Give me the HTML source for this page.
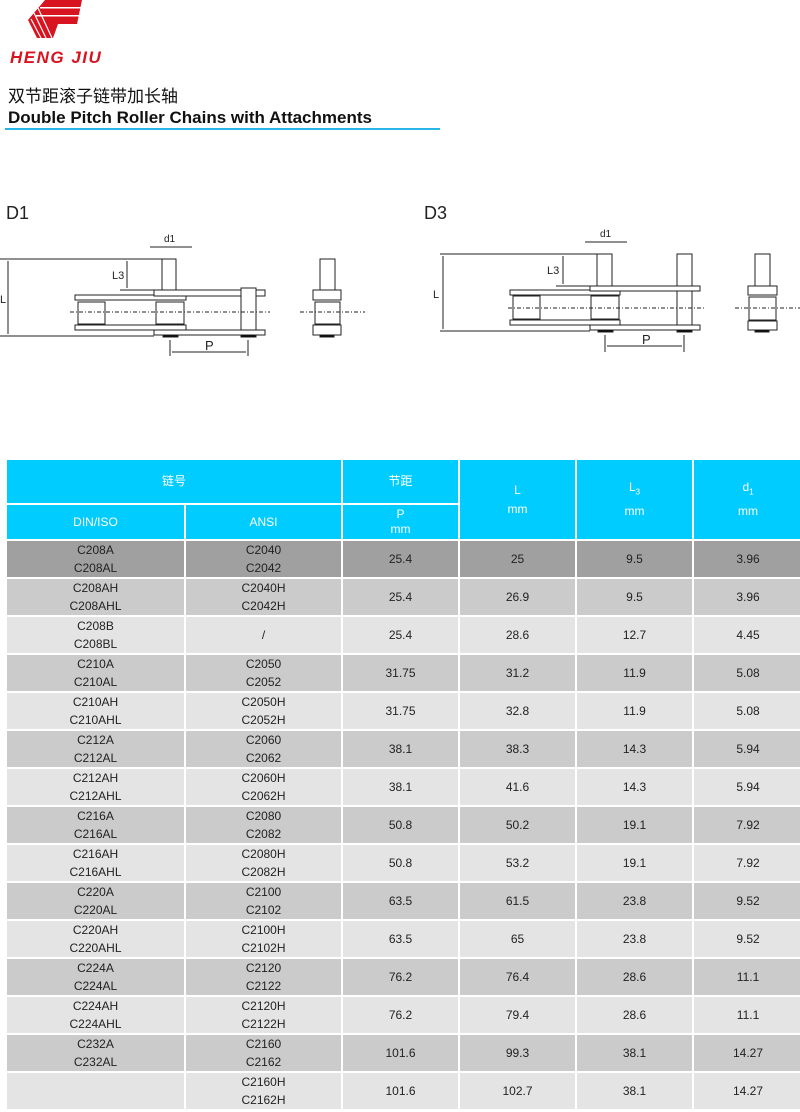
<!DOCTYPE html>
<html><head><meta charset="utf-8"><style>
body{margin:0;width:800px;height:1112px;background:#fff;position:relative;overflow:hidden;font-family:"Liberation Sans","Noto Sans CJK SC",sans-serif;}
.abs{position:absolute}
table{position:absolute;left:5px;top:458px;border-collapse:collapse;table-layout:fixed;width:797px;}
td{border:2px solid #fff;text-align:center;font-size:12px;color:#222;padding:0;line-height:19px;}
.h{background:#00ccff;color:#fff;}
tr.d td{height:36.15px;line-height:18px;box-sizing:border-box;}
.r0 td{background:#a0a0a0}
.r1 td{background:#cbcbcb}
.r2 td{background:#e4e4e4}
</style></head><body>
<svg class="abs" style="left:0;top:0" width="110" height="70">
<polygon points="45,0 82,0 77,24 58,24 53,38 37,38 28,20" fill="#d7141f"/>
<rect x="40" y="7" width="45" height="1.5" fill="#fff"/>
<rect x="36" y="15" width="45" height="1.5" fill="#fff"/>
<line x1="38" y1="8" x2="52" y2="38" stroke="#fff" stroke-width="1.2"/>
<line x1="34" y1="13" x2="46" y2="38" stroke="#fff" stroke-width="1.2"/>
<line x1="31" y1="19" x2="41" y2="38" stroke="#fff" stroke-width="1.2"/>
<text x="10" y="63" font-family="Liberation Sans" font-weight="bold" font-style="italic" font-size="17" fill="#d7141f" letter-spacing="1.5">HENG JIU</text>
</svg>
<div class="abs" style="left:8px;top:82px;font-size:17px;color:#111">双节距滚子链带加长轴</div>
<div class="abs" style="left:8px;top:108px;font-size:17px;font-weight:bold;color:#111">Double Pitch Roller Chains with Attachments</div>
<div class="abs" style="left:5px;top:128px;width:435px;height:2px;background:#29b6e6"></div>

<svg class="abs" style="left:0;top:0" width="800" height="450" font-family="Liberation Sans" fill="none" stroke="#222" stroke-width="1">
<text x="6" y="219" font-size="18" fill="#222" stroke="none">D1</text>
<text x="424" y="219" font-size="18" fill="#222" stroke="none">D3</text>
<g>
<line x1="0" y1="259" x2="176" y2="259"/><line x1="0" y1="336" x2="154" y2="336"/>
<line x1="8" y1="261" x2="8" y2="334"/><text x="0" y="303" font-size="11" fill="#222" stroke="none">L</text>
<rect x="162" y="259" width="14" height="31" fill="#fff"/>
<line x1="120" y1="290" x2="154" y2="290"/>
<line x1="127" y1="261" x2="127" y2="288"/><text x="112" y="279" font-size="11" fill="#222" stroke="none">L3</text>
<line x1="150" y1="247" x2="192" y2="247"/><text x="164" y="242" font-size="10" fill="#222" stroke="none">d1</text>
<rect x="75" y="295" width="111" height="5" fill="#fff"/><rect x="75" y="325" width="111" height="5" fill="#fff"/>
<rect x="78" y="302" width="27" height="22" fill="#fff"/><rect x="156" y="302" width="28" height="22" fill="#fff"/>
<rect x="154" y="290" width="111" height="6" fill="#fff"/><rect x="154" y="330" width="111" height="5" fill="#fff"/>
<rect x="241" y="288" width="15" height="42" fill="#fff"/>
<rect x="163" y="335" width="15" height="2" fill="#000"/><rect x="241" y="335" width="15" height="2" fill="#000"/>
<line x1="70" y1="312" x2="270" y2="312" stroke-dasharray="4,2,1,2"/>
<line x1="170" y1="340" x2="170" y2="356"/><line x1="248" y1="340" x2="248" y2="356"/>
<line x1="172" y1="352" x2="246" y2="352"/><text x="205" y="350" font-size="13" fill="#222" stroke="none">P</text>
<rect x="320" y="259" width="15" height="31" fill="#fff"/>
<rect x="313" y="290" width="28" height="10" fill="#fff"/><rect x="315" y="302" width="25" height="22" fill="#fff"/><rect x="313" y="325" width="28" height="10" fill="#fff"/>
<rect x="320" y="335" width="14" height="2" fill="#000"/>
<line x1="300" y1="312" x2="365" y2="312" stroke-dasharray="4,2,1,2"/>
</g>
<g>
<line x1="440" y1="254" x2="612" y2="254"/><line x1="440" y1="331" x2="590" y2="331"/>
<line x1="443" y1="256" x2="443" y2="329"/><text x="433" y="298" font-size="11" fill="#222" stroke="none">L</text>
<rect x="597" y="254" width="15" height="32" fill="#fff"/><rect x="677" y="254" width="15" height="76" fill="#fff"/>
<line x1="556" y1="286" x2="590" y2="286"/>
<line x1="563" y1="256" x2="563" y2="284"/><text x="547" y="274" font-size="11" fill="#222" stroke="none">L3</text>
<line x1="585" y1="242" x2="627" y2="242"/><text x="600" y="237" font-size="10" fill="#222" stroke="none">d1</text>
<rect x="510" y="290" width="110" height="5" fill="#fff"/><rect x="510" y="320" width="110" height="5" fill="#fff"/>
<rect x="513" y="296" width="27" height="23" fill="#fff"/><rect x="591" y="296" width="28" height="23" fill="#fff"/>
<rect x="590" y="286" width="110" height="5" fill="#fff"/><rect x="590" y="325" width="110" height="5" fill="#fff"/>
<rect x="598" y="330" width="15" height="2" fill="#000"/><rect x="677" y="330" width="15" height="2" fill="#000"/>
<line x1="508" y1="308" x2="705" y2="308" stroke-dasharray="4,2,1,2"/>
<line x1="605" y1="335" x2="605" y2="352"/><line x1="684" y1="335" x2="684" y2="352"/>
<line x1="607" y1="346" x2="682" y2="346"/><text x="642" y="344" font-size="13" fill="#222" stroke="none">P</text>
<rect x="755" y="254" width="15" height="32" fill="#fff"/>
<rect x="748" y="286" width="29" height="9" fill="#fff"/><rect x="749" y="297" width="27" height="23" fill="#fff"/><rect x="748" y="321" width="29" height="9" fill="#fff"/>
<rect x="755" y="330" width="14" height="2" fill="#000"/>
<line x1="735" y1="308" x2="800" y2="308" stroke-dasharray="4,2,1,2"/>
</g>
</svg>

<table>
<colgroup><col style="width:179px"><col style="width:157px"><col style="width:117px"><col style="width:117px"><col style="width:117px"><col style="width:110px"></colgroup>
<tr class="h"><td colspan="2" class="h" style="height:43px">链号</td><td class="h">节距</td><td class="h" rowspan="2">L<br>mm</td><td class="h" rowspan="2">L<sub style="font-size:8px">3</sub><br>mm</td><td class="h" rowspan="2">d<sub style="font-size:8px">1</sub><br>mm</td></tr>
<tr class="h"><td class="h" style="height:34px">DIN/ISO</td><td class="h">ANSI</td><td class="h" style="line-height:15px">P<br>mm</td></tr>
<tr class="d r0"><td>C208A<br>C208AL</td><td>C2040<br>C2042</td><td>25.4</td><td>25</td><td>9.5</td><td>3.96</td></tr>
<tr class="d r1"><td>C208AH<br>C208AHL</td><td>C2040H<br>C2042H</td><td>25.4</td><td>26.9</td><td>9.5</td><td>3.96</td></tr>
<tr class="d r2"><td>C208B<br>C208BL</td><td>/</td><td>25.4</td><td>28.6</td><td>12.7</td><td>4.45</td></tr>
<tr class="d r1"><td>C210A<br>C210AL</td><td>C2050<br>C2052</td><td>31.75</td><td>31.2</td><td>11.9</td><td>5.08</td></tr>
<tr class="d r2"><td>C210AH<br>C210AHL</td><td>C2050H<br>C2052H</td><td>31.75</td><td>32.8</td><td>11.9</td><td>5.08</td></tr>
<tr class="d r1"><td>C212A<br>C212AL</td><td>C2060<br>C2062</td><td>38.1</td><td>38.3</td><td>14.3</td><td>5.94</td></tr>
<tr class="d r2"><td>C212AH<br>C212AHL</td><td>C2060H<br>C2062H</td><td>38.1</td><td>41.6</td><td>14.3</td><td>5.94</td></tr>
<tr class="d r1"><td>C216A<br>C216AL</td><td>C2080<br>C2082</td><td>50.8</td><td>50.2</td><td>19.1</td><td>7.92</td></tr>
<tr class="d r2"><td>C216AH<br>C216AHL</td><td>C2080H<br>C2082H</td><td>50.8</td><td>53.2</td><td>19.1</td><td>7.92</td></tr>
<tr class="d r1"><td>C220A<br>C220AL</td><td>C2100<br>C2102</td><td>63.5</td><td>61.5</td><td>23.8</td><td>9.52</td></tr>
<tr class="d r2"><td>C220AH<br>C220AHL</td><td>C2100H<br>C2102H</td><td>63.5</td><td>65</td><td>23.8</td><td>9.52</td></tr>
<tr class="d r1"><td>C224A<br>C224AL</td><td>C2120<br>C2122</td><td>76.2</td><td>76.4</td><td>28.6</td><td>11.1</td></tr>
<tr class="d r2"><td>C224AH<br>C224AHL</td><td>C2120H<br>C2122H</td><td>76.2</td><td>79.4</td><td>28.6</td><td>11.1</td></tr>
<tr class="d r1"><td>C232A<br>C232AL</td><td>C2160<br>C2162</td><td>101.6</td><td>99.3</td><td>38.1</td><td>14.27</td></tr>
<tr class="d r2"><td></td><td>C2160H<br>C2162H</td><td>101.6</td><td>102.7</td><td>38.1</td><td>14.27</td></tr>
</table>
</body></html>
